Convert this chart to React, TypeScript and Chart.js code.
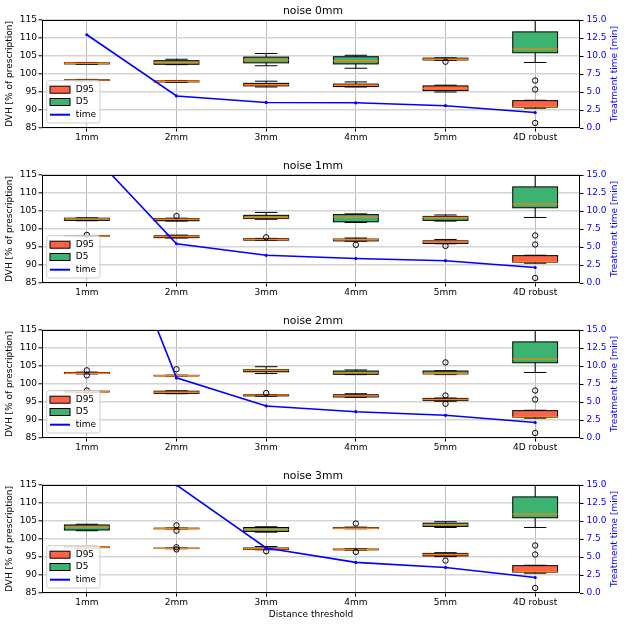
import { useEffect, useRef } from "react"
import { Chart, registerables } from "chart.js"

Chart.register(...registerables)
Chart.defaults.font.family = "'DejaVu Sans', sans-serif"
Chart.defaults.font.size = 9
Chart.defaults.color = "#000"

const categories = ["1mm", "2mm", "3mm", "4mm", "5mm", "4D robust"]
const noiseTitles = ["noise 0mm", "noise 1mm", "noise 2mm", "noise 3mm"]

// box stats per threshold: [lower whisker, q1, median, q3, upper whisker]
const d95Noise0 = [
  [98.1, 98.2, 98.3, 98.4, 98.5],
  [97.7, 97.8, 98.0, 98.1, 98.2],
  [96.4, 96.7, 97.0, 97.4, 98.0],
  [96.4, 96.5, 96.9, 97.2, 97.8],
  [95.0, 95.4, 96.0, 96.7, 96.9],
]
const d95OutNoise0 = [[], [], [], [], []]
const d5Noise0 = [
  [102.7, 102.8, 103.0, 103.1, 103.2],
  [102.6, 102.7, 103.2, 103.7, 104.1],
  [102.3, 103.1, 103.9, 104.7, 105.7],
  [101.6, 102.8, 103.7, 104.8, 105.2],
  [103.8, 103.9, 104.1, 104.4, 104.5],
]
const d5OutNoise0 = [[], [], [], [], [103.4]]
const timeNoise0 = [12.95, 4.45, 3.55, 3.5, 3.1, 2.15]

const d95Noise1 = [
  [98.0, 98.05, 98.1, 98.2, 98.2],
  [97.5, 97.6, 97.9, 98.1, 98.3],
  [96.8, 96.9, 97.1, 97.3, 97.4],
  [96.6, 96.7, 97.0, 97.2, 97.5],
  [95.9, 96.0, 96.4, 96.7, 97.1],
]
const d95OutNoise1 = [[98.35], [], [97.7], [95.6], [95.3]]
const d5Noise1 = [
  [102.3, 102.4, 102.8, 103.0, 103.1],
  [102.2, 102.3, 102.7, 102.9, 103.0],
  [102.7, 102.9, 103.2, 103.8, 104.6],
  [101.8, 102.0, 103.3, 104.0, 104.2],
  [102.2, 102.4, 103.2, 103.5, 103.9],
]
const d5OutNoise1 = [[], [103.6], [], [], []]
const timeNoise1 = [18.7, 5.45, 3.85, 3.4, 3.1, 2.15]

const d95Noise2 = [
  [97.7, 97.8, 97.9, 98.0, 98.0],
  [97.3, 97.4, 97.7, 98.0, 98.1],
  [96.6, 96.7, 96.9, 97.0, 97.1],
  [96.3, 96.4, 96.7, 97.0, 97.3],
  [95.2, 95.4, 95.7, 96.0, 96.1],
]
const d95OutNoise2 = [[98.2], [], [97.5], [], [96.8, 94.5]]
const d5Noise2 = [
  [102.8, 102.9, 103.0, 103.2, 103.3],
  [102.2, 102.25, 102.3, 102.4, 102.45],
  [102.9, 103.4, 103.8, 104.0, 104.8],
  [102.6, 102.7, 103.1, 103.6, 103.9],
  [102.6, 102.8, 102.9, 103.6, 103.7],
]
const d5OutNoise2 = [[103.8, 102.4], [104.1], [], [], [106.0]]
const timeNoise2 = [39.8, 8.35, 4.45, 3.65, 3.15, 2.15]

const d95Noise3 = [
  [97.5, 97.6, 97.7, 97.8, 97.9],
  [97.3, 97.35, 97.4, 97.45, 97.5],
  [97.0, 97.1, 97.3, 97.5, 97.9],
  [96.9, 97.0, 97.1, 97.2, 97.3],
  [95.1, 95.3, 95.7, 96.0, 96.2],
]
const d95OutNoise3 = [[], [97.7, 97.1], [96.6], [96.4], [94.0]]
const d5Noise3 = [
  [102.3, 102.5, 103.3, 103.9, 104.1],
  [102.8, 102.85, 102.9, 103.0, 103.05],
  [101.9, 102.1, 102.6, 103.2, 103.4],
  [102.85, 102.9, 103.0, 103.2, 103.3],
  [103.2, 103.5, 104.0, 104.4, 104.8],
]
const d5OutNoise3 = [[], [103.8, 102.3], [], [104.3], []]
const timeNoise3 = [60, 15.0, 6.25, 4.25, 3.55, 2.15]

// 4D robust is the same in every panel
const robustD95 = [90.5, 90.8, 90.95, 92.6, 92.7]
const robustD95Out = [98.2, 95.7, 86.4]
const robustD5 = [103.2, 105.9, 106.9, 111.7, 117.0]
const robustD5Out: number[] = []

const d95All = [d95Noise0, d95Noise1, d95Noise2, d95Noise3]
const d95OutAll = [d95OutNoise0, d95OutNoise1, d95OutNoise2, d95OutNoise3]
const d5All = [d5Noise0, d5Noise1, d5Noise2, d5Noise3]
const d5OutAll = [d5OutNoise0, d5OutNoise1, d5OutNoise2, d5OutNoise3]
const timeAll = [timeNoise0, timeNoise1, timeNoise2, timeNoise3]

const D95_COLOR = "#ff6347"
const D5_COLOR = "#3cb371"
const MEDIAN_COLOR = "#ff7f0e"
const TIME_COLOR = "#0000ff"

// whiskers, caps, box outline and median for every box dataset
const boxExtras = {
  id: "boxExtras",
  afterDatasetDraw(chart: any, args: any) {
    const ds = chart.data.datasets[args.index]
    const stats: number[][] | undefined = ds.boxStats
    if (!stats) return
    const y = chart.scales.y
    const { ctx, chartArea: a } = chart
    ctx.save()
    ctx.beginPath()
    ctx.rect(a.left, a.top, a.right - a.left, a.bottom - a.top)
    ctx.clip()
    stats.forEach((s, i) => {
      const bar = args.meta.data[i]
      if (!bar) return
      const cx = bar.x
      const half = bar.width / 2
      const cap = bar.width / 4
      const [lo, q1, med, q3, hi] = s.map((v) => y.getPixelForValue(v))
      ctx.strokeStyle = "#000"
      ctx.lineWidth = 1
      ctx.beginPath()
      ctx.moveTo(cx, q1)
      ctx.lineTo(cx, lo)
      ctx.moveTo(cx - cap, lo)
      ctx.lineTo(cx + cap, lo)
      ctx.moveTo(cx, q3)
      ctx.lineTo(cx, hi)
      ctx.moveTo(cx - cap, hi)
      ctx.lineTo(cx + cap, hi)
      ctx.stroke()
      ctx.strokeRect(cx - half, q3, half * 2, q1 - q3)
      ctx.strokeStyle = MEDIAN_COLOR
      ctx.lineWidth = 1.4
      ctx.beginPath()
      ctx.moveTo(cx - half, med)
      ctx.lineTo(cx + half, med)
      ctx.stroke()
    })
    ctx.restore()
  },
}

const frameAndLegend = {
  id: "frameAndLegend",
  afterDatasetsDraw(chart: any) {
    const { ctx, chartArea: a } = chart
    ctx.save()
    ctx.strokeStyle = "#000"
    ctx.lineWidth = 1
    ctx.strokeRect(Math.round(a.left) + 0.5, Math.round(a.top) + 0.5, Math.round(a.right - a.left) - 1, Math.round(a.bottom - a.top) - 1)
    ctx.restore()
  },
  afterDraw(chart: any) {
    const { ctx, chartArea: a } = chart
    ctx.save()
    // legend
    const x0 = a.left + 4.7
    const y0 = a.bottom - 47.3
    const w = 53.3
    const h = 42.3
    const r = 2.5
    ctx.beginPath()
    ctx.moveTo(x0 + r, y0)
    ctx.arcTo(x0 + w, y0, x0 + w, y0 + h, r)
    ctx.arcTo(x0 + w, y0 + h, x0, y0 + h, r)
    ctx.arcTo(x0, y0 + h, x0, y0, r)
    ctx.arcTo(x0, y0, x0 + w, y0, r)
    ctx.closePath()
    ctx.fillStyle = "rgba(255,255,255,0.8)"
    ctx.fill()
    ctx.strokeStyle = "#cccccc"
    ctx.lineWidth = 1
    ctx.stroke()

    const rows = [a.bottom - 38.3, a.bottom - 26, a.bottom - 13.3]
    const px = a.left + 8
    chart.data.datasets
      .filter((ds: any) => ds.label)
      .forEach((ds: any, k: number) => {
        const cy = rows[k]
        if (ds.type === "line") {
          ctx.strokeStyle = ds.borderColor
          ctx.lineWidth = 2
          ctx.beginPath()
          ctx.moveTo(px, cy)
          ctx.lineTo(px + 20, cy)
          ctx.stroke()
        } else {
          ctx.fillStyle = ds.backgroundColor
          ctx.fillRect(px, cy - 3.5, 20, 7)
          ctx.strokeStyle = "#000"
          ctx.lineWidth = 1
          ctx.strokeRect(px, cy - 3.5, 20, 7)
        }
        ctx.fillStyle = "#000"
        ctx.font = "9px 'DejaVu Sans', sans-serif"
        ctx.textBaseline = "middle"
        ctx.textAlign = "left"
        ctx.fillText(ds.label, a.left + 33.7, cy)
      })

    // right axis title, reading bottom to top
    ctx.translate(615, (a.top + a.bottom) / 2)
    ctx.rotate(-Math.PI / 2)
    ctx.fillStyle = TIME_COLOR
    ctx.font = "9px 'DejaVu Sans', sans-serif"
    ctx.textAlign = "center"
    ctx.textBaseline = "middle"
    ctx.fillText("Treatment time [min]", 0, 0)
    ctx.restore()
  },
}

function outlierPoints(perCat: number[][]) {
  const pts: { x: string; y: number }[] = []
  perCat.forEach((vals, i) => vals.forEach((v) => pts.push({ x: categories[i], y: v })))
  return pts
}

function NoisePanel({ index }: { index: number }) {
  const canvasRef = useRef<HTMLCanvasElement>(null)
  const isLast = index === noiseTitles.length - 1

  useEffect(() => {
    if (!canvasRef.current) return
    const ctx = canvasRef.current.getContext("2d")
    if (!ctx) return

    const d95 = [...d95All[index], robustD95]
    const d5 = [...d5All[index], robustD5]
    const d95Out = [...d95OutAll[index], robustD95Out]
    const d5Out = [...d5OutAll[index], robustD5Out]

    const boxDataset = (label: string, stats: number[][], color: string) => ({
      type: "bar" as const,
      label,
      data: stats.map((s) => [s[1], s[3]]),
      boxStats: stats,
      backgroundColor: color,
      borderWidth: 0,
      borderSkipped: false,
      grouped: false,
      categoryPercentage: 0.5,
      barPercentage: 1,
      yAxisID: "y",
      order: 3,
    })

    const chart = new Chart(ctx, {
      type: "bar",
      data: {
        labels: categories,
        datasets: [
          boxDataset("D95", d95, D95_COLOR),
          boxDataset("D5", d5, D5_COLOR),
          {
            type: "line",
            label: "time",
            data: timeAll[index],
            yAxisID: "y1",
            borderColor: TIME_COLOR,
            backgroundColor: TIME_COLOR,
            borderWidth: 1.6,
            pointRadius: 1.6,
            pointBorderWidth: 0,
            tension: 0,
            order: 1,
          },
          {
            type: "line",
            label: "",
            data: [...outlierPoints(d95Out), ...outlierPoints(d5Out)],
            yAxisID: "y",
            showLine: false,
            pointRadius: 2.7,
            pointBorderColor: "#000",
            pointBackgroundColor: "rgba(0,0,0,0)",
            pointBorderWidth: 1,
            order: 2,
          },
        ] as any,
      },
      options: {
        responsive: false,
        animation: false,
        layout: { padding: 0 },
        plugins: {
          legend: { display: false },
          tooltip: { enabled: false },
          title: {
            display: true,
            text: noiseTitles[index],
            color: "#000",
            font: { size: 10.8, weight: "normal" },
            padding: { top: 4.5, bottom: 2.54 },
          },
        },
        scales: {
          x: {
            type: "category",
            offset: true,
            grid: { offset: false, color: "#bcbcbc", lineWidth: 1, tickColor: "#000", tickLength: 3.5, tickWidth: 1 },
            border: { display: false },
            ticks: { color: "#000", padding: 1, autoSkip: false, maxRotation: 0 },
            title: {
              display: isLast,
              text: "Distance threshold",
              color: "#000",
              font: { size: 9 },
              padding: { top: 0, bottom: 6.6 },
            },
            afterFit: (s: any) => {
              s.height = isLast ? 34 : 27
            },
          },
          y: {
            type: "linear",
            position: "left",
            min: 85,
            max: 115,
            ticks: { stepSize: 5, color: "#000", padding: 1.5 },
            grid: { color: "#d4d4d4", lineWidth: 1.6, tickColor: "#000", tickLength: 3.5, tickWidth: 1 },
            border: { display: false },
            title: {
              display: true,
              text: "DVH [% of prescription]",
              color: "#000",
              font: { size: 9 },
              padding: { top: 4.6, bottom: 0 },
            },
            afterFit: (s: any) => {
              s.width = 42
            },
          },
          y1: {
            type: "linear",
            position: "right",
            min: 0,
            max: 15,
            ticks: {
              stepSize: 2.5,
              color: TIME_COLOR,
              padding: 3,
              callback: (v: any) => Number(v).toFixed(1),
            },
            grid: { drawOnChartArea: false, tickColor: "#000", tickLength: 3.5, tickWidth: 1 },
            border: { display: false },
            afterFit: (s: any) => {
              s.width = 46
            },
          },
        },
      } as any,
      plugins: [boxExtras, frameAndLegend],
    })

    return () => {
      chart.destroy()
    }
  }, [index, isLast])

  return <canvas ref={canvasRef} width={626} height={isLast ? 162 : 155} style={{ display: "block" }} />
}

export default function App() {
  return (
    <div style={{ position: "absolute", left: 0, top: 0, width: 626, height: 627, background: "#fff" }}>
      {noiseTitles.map((_, i) => (
        <NoisePanel key={i} index={i} />
      ))}
    </div>
  )
}
